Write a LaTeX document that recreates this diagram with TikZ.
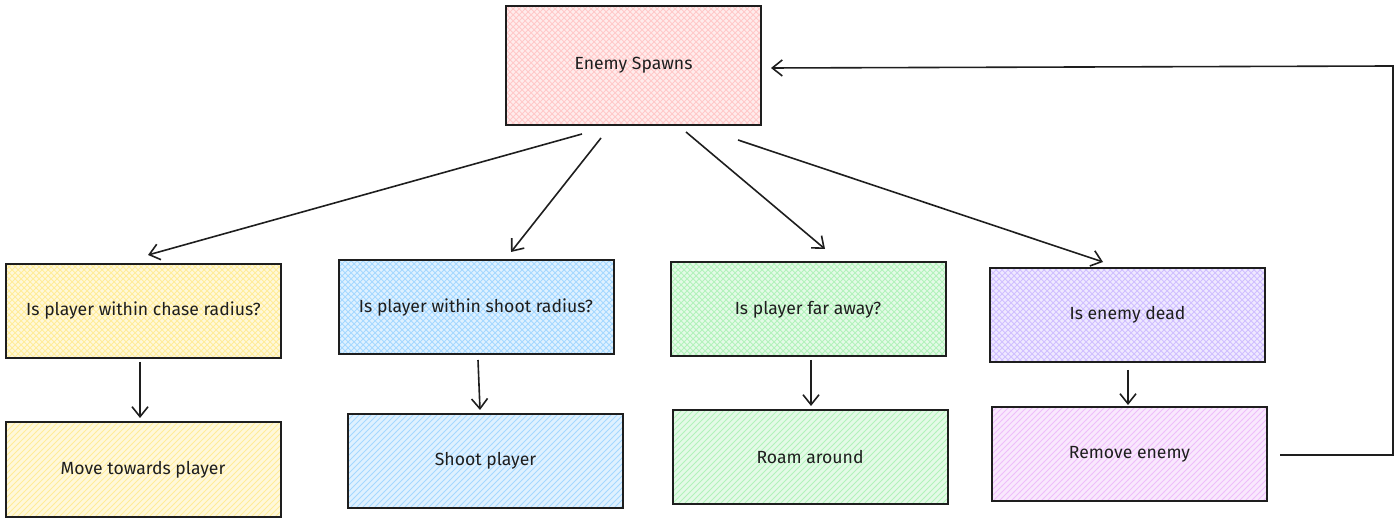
\documentclass[tikz,border=0pt]{standalone}
\usepackage{fontspec}
\setmainfont{Fira Sans}
\usetikzlibrary{arrows.meta,patterns,calc}
\definecolor{cpink}{HTML}{FFC9C9}
\definecolor{cyel}{HTML}{FFEC99}
\definecolor{cblue}{HTML}{A5D8FF}
\definecolor{cgreen}{HTML}{B2F2BB}
\definecolor{cviol}{HTML}{D0BFFF}
\definecolor{cgrape}{HTML}{EEBEFA}
\definecolor{ink}{HTML}{1E1E1E}
\tikzset{
  box/.style={draw=ink, line width=1pt, rectangle, minimum width=137.5pt, minimum height=47pt, font=\fontsize{8.8}{10}\selectfont, text=ink, inner sep=0pt},
  qbox/.style={box, preaction={fill=#1!35}, preaction={pattern=crosshatch, pattern color=#1}},
  abox/.style={box, preaction={fill=#1!35}, preaction={pattern=north east lines, pattern color=#1}},
  conn/.style={draw=ink, line width=0.8pt, -{Straight Barb[length=5pt,width=8pt]}},
}
\begin{document}
\begin{tikzpicture}[x=0.5pt,y=-0.5pt]
\useasboundingbox (0,0) rectangle (1400,522);
\node[qbox=cpink, minimum width=127.5pt, minimum height=59.5pt] (spawn) at (633.5,65.5) {Enemy Spawns};
\node[qbox=cyel] (chase) at (143.5,311) {Is player within chase radius?};
\node[qbox=cblue] (shootq) at (476,307.5) {Is player within shoot radius?};
\node[qbox=cgreen] (far) at (808,309.5) {Is player far away?};
\node[qbox=cviol] (dead) at (1127.5,315) {Is enemy dead};
\node[abox=cyel] (move) at (143,469.5) {Move towards player};
\node[abox=cblue] (shoot) at (485.5,461) {Shoot player};
\node[abox=cgreen] (roam) at (810,457.5) {Roam around};
\node[abox=cgrape] (remove) at (1129.5,454) {Remove enemy};
\coordinate (s1) at (582,134);
\coordinate (s2) at (601,138);
\coordinate (s3) at (686,132);
\coordinate (s4) at (738,140);
\coordinate (t1) at (148,255);
\coordinate (t2) at (511,252);
\coordinate (t3) at (825,249);
\coordinate (t4) at (1103,262);
\draw[conn] (s1) -- (t1);
\draw[conn] (s2) -- (t2);
\draw[conn] (s3) -- (t3);
\draw[conn] (s4) -- (t4);
\coordinate (a1) at (140,362); \coordinate (b1) at (140,418);
\coordinate (a2) at (478,360); \coordinate (b2) at (480,410);
\coordinate (a3) at (811,360); \coordinate (b3) at (811,406);
\coordinate (a4) at (1128,370); \coordinate (b4) at (1128,405);
\draw[conn] (a1) -- (b1);
\draw[conn] (a2) -- (b2);
\draw[conn] (a3) -- (b3);
\draw[conn] (a4) -- (b4);
\coordinate (r0) at (1280,455);
\coordinate (r1) at (1393,455);
\coordinate (r2) at (1393,66);
\coordinate (ret) at (771,68);
\draw[conn] (r0) -- (r1) -- (r2) -- (ret);
\end{tikzpicture}
\end{document}
